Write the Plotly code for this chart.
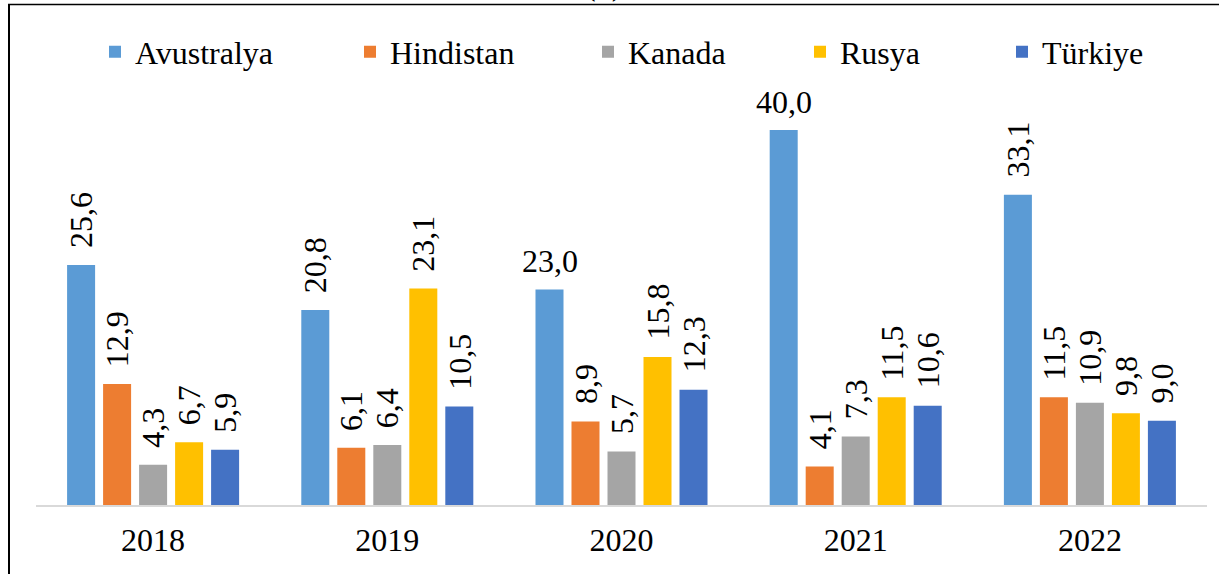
import plotly.graph_objects as go

years = ["2018", "2019", "2020", "2021", "2022"]
series_names = ["Avustralya", "Hindistan", "Kanada", "Rusya", "Türkiye"]
avustralya = [25.6, 20.8, 23.0, 40.0, 33.1]
hindistan = [12.9, 6.1, 8.9, 4.1, 11.5]
kanada = [4.3, 6.4, 5.7, 7.3, 10.9]
rusya = [6.7, 23.1, 15.8, 11.5, 9.8]
turkiye = [5.9, 10.5, 12.3, 10.6, 9.0]
colors = ["#5B9BD5", "#ED7D31", "#A5A5A5", "#FFC000", "#4472C4"]
# labels drawn horizontally instead of rotated
horizontal_labels = {("Avustralya", "2020"), ("Avustralya", "2021")}

all_values = [avustralya, hindistan, kanada, rusya, turkiye]
FONT = "Liberation Serif, Times New Roman, serif"
FS = 32

W, H = 1219, 574
ML, MR, MT, MB = 36, 12, 80, 69
PW, PH = W - ML - MR, H - MT - MB
px_per_unit = 9.375
ymax = PH / px_per_unit

def px_x(x):
    return (x - ML) / PW

def px_y(y):
    return (H - MB - y) / PH

legend_widths = [210, 193, 167, 157, 110]

fig = go.Figure()
for name, vals, col, lw in zip(series_names, all_values, colors, legend_widths):
    fig.add_trace(go.Bar(
        x=years, y=vals, name=name, marker=dict(color=col, line=dict(width=0)),
        legendwidth=lw,
    ))

annotations = []
n = len(series_names)
pitch = 36
for i, (name, vals) in enumerate(zip(series_names, all_values)):
    off = (i - (n - 1) / 2) * pitch
    for j, (yr, v) in enumerate(zip(years, vals)):
        label = f"{v:.1f}".replace(".", ",")
        horiz = (name, yr) in horizontal_labels
        annotations.append(dict(
            x=j, y=v, xref="x", yref="y", text=label, showarrow=False,
            xshift=off, yanchor="bottom", xanchor="center",
            textangle=0 if horiz else -90, yshift=8 if horiz else 15,
            font=dict(family=FONT, size=FS, color="black"),
        ))

annotations.append(dict(
    x=px_x(603), y=px_y(4), xref="paper", yref="paper", text="(b)", showarrow=False,
    xanchor="center", yanchor="bottom", font=dict(family=FONT, size=FS, color="black"),
))

shapes = [
    dict(type="line", xref="paper", yref="paper", x0=px_x(9), x1=px_x(9),
         y0=px_y(4), y1=px_y(H + 5), line=dict(color="black", width=2)),
    dict(type="line", xref="paper", yref="paper", x0=px_x(8), x1=px_x(W + 5),
         y0=px_y(4.5), y1=px_y(4.5), line=dict(color="black", width=1.5)),
]

fig.update_layout(
    width=W, height=H,
    margin=dict(l=ML, r=MR, t=MT, b=MB, autoexpand=False),
    paper_bgcolor="white", plot_bgcolor="white",
    barmode="group", bargap=0.2314, bargroupgap=0.222,
    font=dict(family=FONT, size=FS, color="black"),
    showlegend=True,
    legend=dict(orientation="h", x=px_x(95), xanchor="left", y=px_y(52), yanchor="middle",
                font=dict(family=FONT, size=FS, color="black"), bgcolor="rgba(0,0,0,0)",
                traceorder="normal"),
    xaxis=dict(type="category", range=[-0.5, len(years) - 0.5], showgrid=False,
               showline=True, linecolor="#D9D9D9", linewidth=2,
               ticks="", tickfont=dict(family=FONT, size=FS, color="black"),
               ticklabelstandoff=6),
    yaxis=dict(range=[0, ymax], visible=False, showgrid=False, zeroline=False),
    annotations=annotations,
    shapes=shapes,
)

fig.write_html("out.html", config={"displayModeBar": False},
               post_script="document.body.style.margin='0';")
